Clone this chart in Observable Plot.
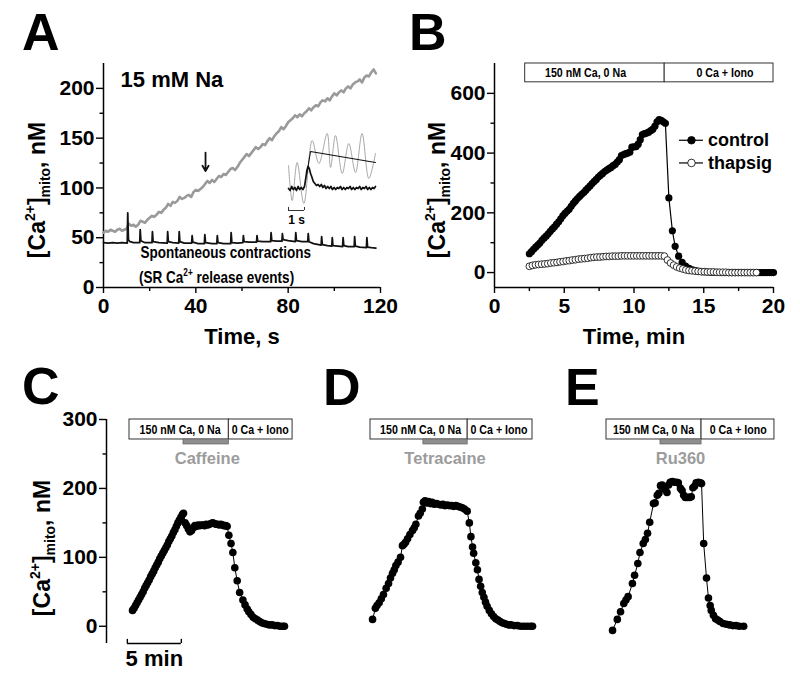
<!DOCTYPE html>
<html><head><meta charset="utf-8">
<script src="https://cdn.jsdelivr.net/npm/d3@7"></script>
<script src="https://cdn.jsdelivr.net/npm/@observablehq/plot@0.6"></script>
<style>
body{margin:0;background:#fff;}
#fig{position:relative;width:800px;height:681px;overflow:hidden;}
</style></head><body><div id="fig"></div>
<script>
const FONT = '"Liberation Sans", Arial, Helvetica, sans-serif';
const NARROW = '"Liberation Sans Narrow", "Arial Narrow", "Liberation Sans", sans-serif';
const NARROW_RATIO = 0.82;

// ---------- Panel A data ----------
const aTicksX = [0, 40, 80, 120];
const aMinorX = [20, 60, 100];
const aTicksY = [0, 50, 100, 150, 200];
const aMinorY = [25, 75, 125, 175];
// gray trace, one value per second from t = 0 s
const aGray = [55,57,56,58,57,56,58,59,57,58,59,64,62,63,61,63,67,66,65,68,
  70,72,71,73,76,75,78,80,84,82,86,85,87,91,89,90,92,93,91,96,
  98,97,99,101,104,107,105,108,106,109,112,111,114,113,116,119,120,118,121,125,
  128,131,134,132,135,138,141,139,141,144,143,147,150,148,152,155,157,161,159,162,
  166,168,170,173,171,174,172,175,177,180,178,181,183,182,186,188,187,190,188,192,
  195,193,196,198,196,200,202,200,204,206,207,209,206,211,213,212,216,219,215];
// black trace [t (s), Ca (nM)]
const aBlack = [[0,45],[2,44.5],[4,45],[6,44.5],[8,45],[10.3,44.5],[10.5,75],[10.8,48],[11.5,46],[13,45],
  [15.7,45],[15.9,58],[16.2,47],[18,45],[21,45],[21.2,56],[21.5,46],[24,45],[27.6,44.5],[27.8,56],[28.1,46],
  [30,45],[32.6,44.5],[32.8,56],[33.1,46],[35,44.5],[38.2,44.5],[38.4,52],[38.7,45.5],[41,44],[43.7,44],
  [43.9,53],[44.2,45],[47,44],[49.1,44],[49.3,52],[49.6,45],[52,44],[55.1,44],[55.3,55],[55.6,45],[58,44.5],
  [60.4,45],[60.6,52],[60.9,46],[63,45.5],[66.3,45.5],[66.5,52],[66.8,46.5],[69,46],[72.4,46],[72.6,55],
  [72.9,47],[75,46.5],[77.3,46.5],[77.5,54],[77.8,48],[80,47],[83.1,46],[83.3,55],[83.6,47],[86,46],
  [88.5,46],[88.7,54],[89,46],[91,44],[94.3,42.5],[94.5,51],[94.8,43],[97,42],[98.9,41.5],[99.1,50],
  [99.4,42],[101.5,41.5],[103.6,41],[103.8,50],[104.1,42],[106,41],[108.6,41],[108.8,51],[109.1,41.5],
  [111,40.5],[113.9,40],[114.1,50],[114.4,40.5],[116,40],[118,39.5]];
const aArrow = [{t: 44.2, from: 135.5, to: 117}];
const aNotes = [
  {t: 7.4, v: 201, text: "15 mM Na", size: 22, family: FONT},
  {t: 16.0, v: 30, text: "Spontaneous contractions", size: 16.5, family: NARROW}
];
const aNote2 = {t: 15.6, v: 4, pre: "(SR Ca", sup: "2+", post: " release events)"};
// inset (own time axis in s, arbitrary vertical units)
const insetGray = [[0,38],[0.23,3],[0.54,41],[0.96,0],[1.48,63],[1.9,40],[2.42,70],[2.63,36],[2.94,68],
  [3.36,30],[3.77,60],[4.19,31],[4.6,70],[5.02,25],[5.44,50]];
const insetBlack = [[0,15],[0.1,13],[0.2,17],[0.3,14],[0.4,16],[0.5,13],[0.6,17],[0.7,14],[0.8,16],[0.9,14],
  [1.0,17],[1.08,25],[1.15,33],[1.22,37],[1.3,35],[1.38,30],[1.45,27],[1.55,22],[1.65,20],[1.75,18],
  [1.85,19],[1.95,17],[2.05,19],[2.15,16],[2.25,18],[2.35,15],[2.45,17],[2.55,15],[2.65,17],[2.75,14],
  [2.85,16],[2.95,14],[3.05,16],[3.15,15],[3.25,17],[3.35,14],[3.45,16],[3.55,14],[3.65,16],[3.75,15],
  [3.85,17],[3.95,14],[4.05,16],[4.15,14],[4.25,16],[4.35,15],[4.45,17],[4.55,14],[4.65,16],[4.75,15],
  [4.85,17],[4.95,14],[5.05,16],[5.15,14],[5.25,16],[5.35,15],[5.44,17]];
const insetFit = [[1.15,30],[1.375,52],[5.44,41]];
const insetBar = [{t0: 0, t1: 1, v: -7, label: "1 s"}];

// ---------- Panel B data ----------
const bTicksX = [0, 5, 10, 15, 20];
const bMinorX = [2.5, 7.5, 12.5, 17.5];
const bTicksY = [0, 200, 400, 600];
const bMinorY = [100, 300, 500];
const bControl = [[2.5,63],[2.65,70],[2.8,78],[2.95,85],[3.1,92],[3.25,99],[3.4,108],[3.55,115],[3.7,122],
  [3.85,130],[4.0,138],[4.15,146],[4.3,153],[4.45,162],[4.6,170],[4.75,180],[4.9,190],[5.05,198],[5.2,205],
  [5.35,212],[5.5,222],[5.65,232],[5.8,240],[5.95,248],[6.1,255],[6.25,262],[6.4,268],[6.55,276],[6.7,283],
  [6.85,290],[7.0,298],[7.15,305],[7.3,312],[7.45,320],[7.6,326],[7.75,332],[7.9,338],[8.05,343],[8.2,348],
  [8.35,352],[8.5,358],[8.65,362],[8.8,370],[8.95,378],[9.1,392],[9.25,395],[9.4,398],[9.55,400],[9.7,403],
  [9.85,420],[10.0,421],[10.15,422],[10.3,430],[10.45,445],[10.6,462],[10.75,465],[10.9,467],[11.05,470],
  [11.2,475],[11.35,480],[11.5,490],[11.65,505],[11.8,512],[11.95,510],[12.1,505],[12.25,500],[12.5,250],
  [12.75,140],[12.95,88],[13.2,55],[13.45,34],[13.7,22],[13.95,14],[14.2,9],[14.45,6],[14.7,4],[14.95,3],
  [15.2,2],[15.5,1],[15.75,1],[16,1],[16.25,0],[16.5,0],[16.75,0],[17,0],[17.25,0],[17.5,0],[17.75,0],
  [18,0],[18.25,0],[18.5,0],[18.75,0],[18.95,0],[19.1,0],[19.25,0],[19.4,0],[19.55,0],[19.7,0],[19.85,0],[20,0]];
const bThapsig = [[2.5,21],[2.72,24],[2.94,26],[3.16,27],[3.38,28],[3.6,29],[3.82,30],[4.04,32],[4.26,33],
  [4.48,34],[4.7,36],[4.92,37],[5.14,39],[5.36,40],[5.58,42],[5.8,43],[6.02,45],[6.24,46],[6.46,47],[6.68,48],
  [6.9,50],[7.12,51],[7.34,52],[7.56,52],[7.78,53],[8.0,54],[8.22,54],[8.44,55],[8.66,55],[8.88,55],[9.1,56],
  [9.32,56],[9.54,56],[9.76,56],[9.98,56],[10.2,56],[10.42,56],[10.64,56],[10.86,56],[11.08,56],[11.3,56],
  [11.52,56],[11.74,56],[11.96,56],[12.18,55],[12.4,42],[12.62,32],[12.84,25],[13.06,19],[13.28,15],[13.5,12],
  [13.72,9],[13.94,7],[14.16,6],[14.38,5],[14.6,4],[14.82,3],[15.04,3],[15.26,2],[15.48,2],[15.7,2],[15.92,1],
  [16.14,1],[16.36,1],[16.58,1],[16.8,0],[17.02,0],[17.24,0],[17.46,0],[17.68,0],[17.9,0],[18.12,0],[18.34,0],
  [18.56,0],[18.78,0]];
const bBoxes = [{x1: 2.2, x2: 12.2, labelT: 6.52, label: "150 nM Ca, 0 Na"},
                {x1: 12.2, x2: 20, labelT: 16.52, label: "0 Ca + Iono"}];
const bBoxY = [637, 700];
const bLegend = [{name: "control", v: 443, fill: "black"}, {name: "thapsig", v: 367, fill: "white"}];
const bLegendT = {line: [13.26, 14.98], dot: 14.12, text: 15.3};

// ---------- Panels C, D, E data ----------
const rowTicksY = [0, 100, 200, 300];
const rowMinorY = [50, 150, 250];
const boxLabels = ["150 nM Ca, 0 Na", "0 Ca + Iono"];
const boxY = [271, 300];
const drugBarY = [263.8, 271];
const drugLabelV = 243.5;
const scaleBar = [{t0: -0.2, t1: 4.8, label: "5 min"}];
const cData = [[0.28,23],[0.42,26],[0.56,30],[0.7,34],[0.84,38],[0.98,42],[1.12,46],[1.26,50],[1.4,55],
  [1.54,59],[1.68,63],[1.82,67],[1.96,72],[2.1,76],[2.24,80],[2.38,85],[2.52,89],[2.66,93],[2.8,98],[2.94,102],
  [3.08,106],[3.22,110],[3.36,114],[3.5,118],[3.64,123],[3.78,127],[3.92,131],[4.06,136],[4.2,140],[4.34,145],
  [4.48,150],[4.62,154],[4.76,158],[4.9,162],[5.0,164],[5.15,150],[5.3,146],[5.45,141],[5.6,137],[5.75,139],
  [5.9,143],[6.05,146],[6.2,145],[6.35,147],[6.5,146],[6.65,147],[6.8,147],[6.95,146],[7.1,148],[7.25,147],
  [7.4,148],[7.55,149],[7.7,150],[7.85,149],[8.0,148],[8.15,148],[8.3,147],[8.45,148],[8.6,147],[8.75,146],
  [8.9,146],[9.04,145],[9.2,132],[9.4,120],[9.57,107],[9.75,85],[9.97,66],[10.2,49],[10.5,38],[10.7,31],
  [10.9,25],[11.05,21],[11.25,17],[11.45,13],[11.65,11],[11.85,9],[12.05,7],[12.25,5],[12.45,4],[12.7,3],
  [12.95,2],[13.2,2],[13.45,1],[13.7,1],[13.95,0],[14.2,0],[14.35,0]];
const dData = [[0.19,10],[0.45,26],[0.6,30],[0.8,34],[1.0,40],[1.2,46],[1.45,55],[1.67,62],[1.85,70],[2.04,77],
  [2.2,82],[2.35,88],[2.55,93],[2.78,100],[2.96,117],[3.1,119],[3.25,122],[3.43,127],[3.65,133],[3.89,139],
  [4.05,143],[4.2,148],[4.44,160],[4.6,164],[4.8,170],[4.9,180],[5.05,182],[5.2,179],[5.37,181],[5.55,178],
  [5.7,180],[5.9,177],[6.1,178],[6.3,177],[6.5,176],[6.7,177],[6.9,175],[7.1,176],[7.3,175],[7.5,175],
  [7.7,174],[7.9,175],[8.1,174],[8.3,173],[8.5,172],[8.7,170],[8.95,167],[9.15,150],[9.3,130],[9.45,115],
  [9.55,106],[9.75,92],[9.9,82],[10.05,68],[10.2,58],[10.35,49],[10.5,42],[10.65,35],[10.8,29],[11.0,23],
  [11.2,18],[11.4,14],[11.6,11],[11.8,9],[12.0,7],[12.2,5],[12.4,4],[12.6,3],[12.8,2],[13.0,2],[13.3,1],
  [13.6,1],[13.9,0],[14.2,0],[14.5,0],[14.8,0],[15.0,0]];
const eData = [[0.56,-6],[1.0,10],[1.3,21],[1.6,33],[1.8,38],[2.0,43],[2.4,62],[2.6,74],[2.9,91],[3.1,107],
  [3.4,120],[3.6,126],[3.8,135],[4.0,151],[4.35,178],[4.5,179],[4.7,190],[4.85,193],[5.0,204],[5.15,205],
  [5.3,201],[5.45,198],[5.6,194],[5.75,205],[5.9,209],[6.1,210],[6.3,209],[6.5,209],[6.65,208],[6.85,200],
  [7.0,197],[7.15,190],[7.3,187],[7.5,187],[7.7,187],[7.85,188],[8.0,201],[8.15,203],[8.3,208],[8.5,209],
  [8.7,208],[8.8,207],[9.0,120],[9.26,70],[9.44,41],[9.6,30],[9.7,23],[9.9,16],[10.1,11],[10.3,9],[10.5,7],
  [10.8,4],[11.1,3],[11.4,2],[11.7,1],[12.0,1],[12.3,0],[12.7,0]];

const rowPanels = [
  {data: cData, edges: [0, 9.2, 15.1], labelT: [4.68, 12.1], drug: [5.0, 9.2], drugT: 7.2, drugName: "Caffeine",
   origin: 129, left: 0, width: 302, axisX: 106},
  {data: dData, edges: [0, 9.0, 15.0], labelT: [4.63, 11.9], drug: [4.9, 9.0], drugT: 6.9, drugName: "Tetracaine",
   origin: 370, left: 330, width: 215},
  {data: eData, edges: [0, 8.8, 15.55], labelT: [4.35, 12.2], drug: [5.0, 8.8], drugT: 6.85, drugName: "Ru360",
   origin: 606, left: 570, width: 225}
];
const pxPerMin = 10.8;

const letters = [{l: "A", x: 22, y: 50}, {l: "B", x: 409, y: 50}, {l: "C", x: 22, y: 404},
                 {l: "D", x: 323, y: 405}, {l: "E", x: 565, y: 405}];
const yTitles = [{x: 45, y: 190}, {x: 445, y: 190}, {x: 50, y: 548}];

// ---------- helpers ----------
const fig = document.getElementById("fig");
function baseStyle(left, top) {
  return {position: "absolute", left: left + "px", top: top + "px", fontFamily: FONT, fontWeight: "bold",
          fontSize: "21px", color: "black", background: "none", overflow: "visible", maxWidth: "none"};
}
function axes(tx, mx, ty, my) {
  const m = [];
  if (tx) m.push(Plot.axisX(tx, {tickSize: 6, tickPadding: 5, label: null, strokeWidth: 1.4}));
  if (mx) m.push(Plot.axisX(mx, {tickSize: 4, tickFormat: () => "", label: null, strokeWidth: 1.4}));
  if (ty) m.push(Plot.axisY(ty, {tickSize: 7, tickPadding: 2, label: null, strokeWidth: 1.4}));
  if (my) m.push(Plot.axisY(my, {tickSize: 3.5, tickFormat: () => "", label: null, strokeWidth: 1.4}));
  return m;
}
// horizontally condense a text element about its anchor point (no narrow face is installed)
function condense(el) {
  const b = el.getBBox();
  if (!b.width) return;
  const anchor = getComputedStyle(el).textAnchor;
  const cx = anchor === "middle" ? b.x + b.width / 2 : anchor === "end" ? b.x + b.width : b.x;
  const prev = el.getAttribute("transform") || "";
  el.setAttribute("transform", `${prev} translate(${cx},0) scale(${NARROW_RATIO},1) translate(${-cx},0)`.trim());
}

// ---------- Panel A ----------
const aGrayPts = aGray.map((v, i) => [i, v]);
const plotA = Plot.plot({
  width: 400, height: 360, marginLeft: 103, marginRight: 20, marginTop: 63, marginBottom: 73,
  x: {domain: [0, 120], axis: null, label: null}, y: {domain: [0, 225], axis: null, label: null},
  style: baseStyle(0, 0),
  marks: [
    Plot.ruleX([0], {strokeWidth: 1.5}),
    Plot.ruleY([0], {strokeWidth: 1.5}),
    ...axes(aTicksX, aMinorX, aTicksY, aMinorY),
    Plot.line(aGrayPts, {x: d => d[0], y: d => d[1], stroke: "#9a9a9a", strokeWidth: 2.6}),
    Plot.line(aBlack, {x: d => d[0], y: d => d[1], stroke: "#111", strokeWidth: 1.8}),
    Plot.arrow(aArrow, {x1: "t", x2: "t", y1: "from", y2: "to", stroke: "#111", strokeWidth: 1.8, headLength: 9}),
    ...aNotes.map(n => Plot.text([n], {x: "t", y: "v", text: "text", textAnchor: "start", lineAnchor: "bottom",
                                       fontSize: n.size, fontFamily: n.family})),
    Plot.text(["Time, s"], {frameAnchor: "bottom", dy: 56, lineAnchor: "bottom", fontSize: 22})
  ]
});
fig.appendChild(plotA);
{
  const sx = plotA.scale("x"), sy = plotA.scale("y");
  const t = d3.select(plotA).append("text")
    .attr("x", sx.apply(aNote2.t)).attr("y", sy.apply(aNote2.v))
    .attr("font-family", NARROW).attr("font-size", 16.5).attr("text-anchor", "start");
  t.append("tspan").text(aNote2.pre);
  t.append("tspan").attr("dy", -7).attr("font-size", 10).text(aNote2.sup);
  t.append("tspan").attr("dy", 7).text(aNote2.post);
  condense(t.node());
}

// inset
const plotInset = Plot.plot({
  width: 95, height: 105, marginLeft: 3, marginRight: 5, marginTop: 8, marginBottom: 27,
  x: {domain: [0, 5.44], axis: null, label: null}, y: {domain: [0, 70], axis: null, label: null},
  style: baseStyle(285, 125),
  marks: [
    Plot.line(insetGray, {x: d => d[0], y: d => d[1], stroke: "#a8a8a8", strokeWidth: 1, curve: "catmull-rom"}),
    Plot.line(insetBlack, {x: d => d[0], y: d => d[1], stroke: "#111", strokeWidth: 1.7}),
    Plot.line(insetFit, {x: d => d[0], y: d => d[1], stroke: "#111", strokeWidth: 1.1}),
    Plot.ruleY(insetBar, {y: "v", x1: "t0", x2: "t1", stroke: "#333", strokeWidth: 1}),
    Plot.ruleX(insetBar.flatMap(d => [d.t0, d.t1]), {y1: -7, y2: -4, stroke: "#333", strokeWidth: 1}),
    Plot.text(insetBar, {x: d => (d.t0 + d.t1) / 2, y: "v", text: "label", dy: 13, lineAnchor: "bottom", fontSize: 12})
  ]
});
fig.appendChild(plotInset);

// ---------- Panel B ----------
const plotB = Plot.plot({
  width: 400, height: 360, marginLeft: 94, marginRight: 27, marginTop: 63, marginBottom: 73,
  x: {domain: [0, 20], axis: null, label: null}, y: {domain: [-50, 700], axis: null, label: null},
  style: baseStyle(400, 0),
  marks: [
    Plot.ruleX([0], {strokeWidth: 1.5}),
    Plot.ruleY([-50], {strokeWidth: 1.5}),
    ...axes(bTicksX, bMinorX, bTicksY, bMinorY),
    Plot.rect(bBoxes, {x1: "x1", x2: "x2", y1: bBoxY[0], y2: bBoxY[1], fill: "white", stroke: "#333", strokeWidth: 1}),
    Plot.text(bBoxes, {x: "labelT", y: (bBoxY[0] + bBoxY[1]) / 2, text: "label", fontSize: 13, fontFamily: NARROW}),
    Plot.line(bControl, {x: d => d[0], y: d => d[1], stroke: "black", strokeWidth: 1.2}),
    Plot.dot(bControl, {x: d => d[0], y: d => d[1], r: 3.6, fill: "black"}),
    Plot.line(bThapsig, {x: d => d[0], y: d => d[1], stroke: "black", strokeWidth: 0.8}),
    Plot.dot(bThapsig, {x: d => d[0], y: d => d[1], r: 3.4, fill: "white", stroke: "black", strokeWidth: 0.8}),
    Plot.ruleY(bLegend, {y: "v", x1: () => bLegendT.line[0], x2: () => bLegendT.line[1], strokeWidth: 1.2}),
    Plot.dot(bLegend, {x: () => bLegendT.dot, y: "v", r: 3.8, fill: "fill", stroke: "black", strokeWidth: 0.8}),
    Plot.text(bLegend, {x: () => bLegendT.text, y: "v", text: "name", textAnchor: "start", fontSize: 18}),
    Plot.text(["Time, min"], {frameAnchor: "bottom", dy: 56, lineAnchor: "bottom", fontSize: 22})
  ]
});
fig.appendChild(plotB);

// ---------- Panels C, D, E ----------
rowPanels.forEach((p, i) => {
  const hasAxis = p.axisX !== undefined;
  const ml = hasAxis ? p.axisX - p.left : 0;
  const t0 = ((p.left + ml) - p.origin) / pxPerMin;
  const t1 = ((p.left + p.width) - p.origin) / pxPerMin;
  const boxes = [{x1: p.edges[0], x2: p.edges[1], t: p.labelT[0], label: boxLabels[0]},
                 {x1: p.edges[1], x2: p.edges[2], t: p.labelT[1], label: boxLabels[1]}];
  const marks = [];
  if (hasAxis) {
    marks.push(Plot.ruleX([t0], {strokeWidth: 1.5}));
    marks.push(...axes(null, null, rowTicksY, rowMinorY));
    marks.push(Plot.ruleY(scaleBar, {y: -25, x1: "t0", x2: "t1", strokeWidth: 1.4}));
    marks.push(Plot.ruleX(scaleBar.flatMap(d => [d.t0, d.t1]), {y1: -25, y2: -19, strokeWidth: 1.4}));
    marks.push(Plot.text(scaleBar, {x: d => (d.t0 + d.t1) / 2, y: -25, text: "label", dy: 22, lineAnchor: "bottom", fontSize: 22}));
  }
  marks.push(
    Plot.rect(boxes, {x1: "x1", x2: "x2", y1: boxY[0], y2: boxY[1], fill: "white", stroke: "#333", strokeWidth: 1}),
    Plot.text(boxes, {x: "t", y: (boxY[0] + boxY[1]) / 2, text: "label", fontSize: 13, fontFamily: NARROW}),
    Plot.rect([p.drug], {x1: d => d[0], x2: d => d[1], y1: drugBarY[0], y2: drugBarY[1], fill: "#8e8e8e", stroke: "#666", strokeWidth: 0.8}),
    Plot.text([p], {x: "drugT", y: drugLabelV, text: "drugName", fill: "#9c9c9c", fontSize: 16.5}),
    Plot.line(p.data, {x: d => d[0], y: d => d[1], stroke: "black", strokeWidth: 1}),
    Plot.dot(p.data, {x: d => d[0], y: d => d[1], r: 3.8, fill: "black"})
  );
  const pl = Plot.plot({
    width: p.width, height: 341, marginLeft: ml, marginRight: 0, marginTop: 79, marginBottom: 38,
    x: {domain: [t0, t1], axis: null, label: null}, y: {domain: [-25, 300], axis: null, label: null},
    style: baseStyle(p.left, 340),
    marks
  });
  fig.appendChild(pl);
});

// condense the narrow-font labels
const narrowSet = new Set([...boxLabels, ...bBoxes.map(d => d.label), "Spontaneous contractions"]);
d3.select(fig).selectAll("svg text").each(function () {
  if (narrowSet.has(this.textContent)) condense(this);
});

// ---------- overlay: panel letters and y titles ----------
const ov = d3.select(fig).append("svg").attr("width", 800).attr("height", 681)
  .style("position", "absolute").style("left", "0px").style("top", "0px").style("pointer-events", "none")
  .attr("font-family", FONT).attr("font-weight", "bold");
ov.selectAll("text.letter").data(letters).join("text").attr("class", "letter")
  .attr("x", d => d.x).attr("y", d => d.y).attr("font-size", 52).text(d => d.l);
yTitles.forEach(p => {
  const t = ov.append("text").attr("transform", `translate(${p.x},${p.y}) rotate(-90)`)
    .attr("text-anchor", "middle").attr("font-size", 23);
  t.append("tspan").text("[Ca");
  t.append("tspan").attr("dy", -10).attr("font-size", 14).text("2+");
  t.append("tspan").attr("dy", 10).text("]");
  t.append("tspan").attr("dy", 5).attr("font-size", 14).text("mito");
  t.append("tspan").attr("dy", -5).text(", nM");
});
</script></body></html>
